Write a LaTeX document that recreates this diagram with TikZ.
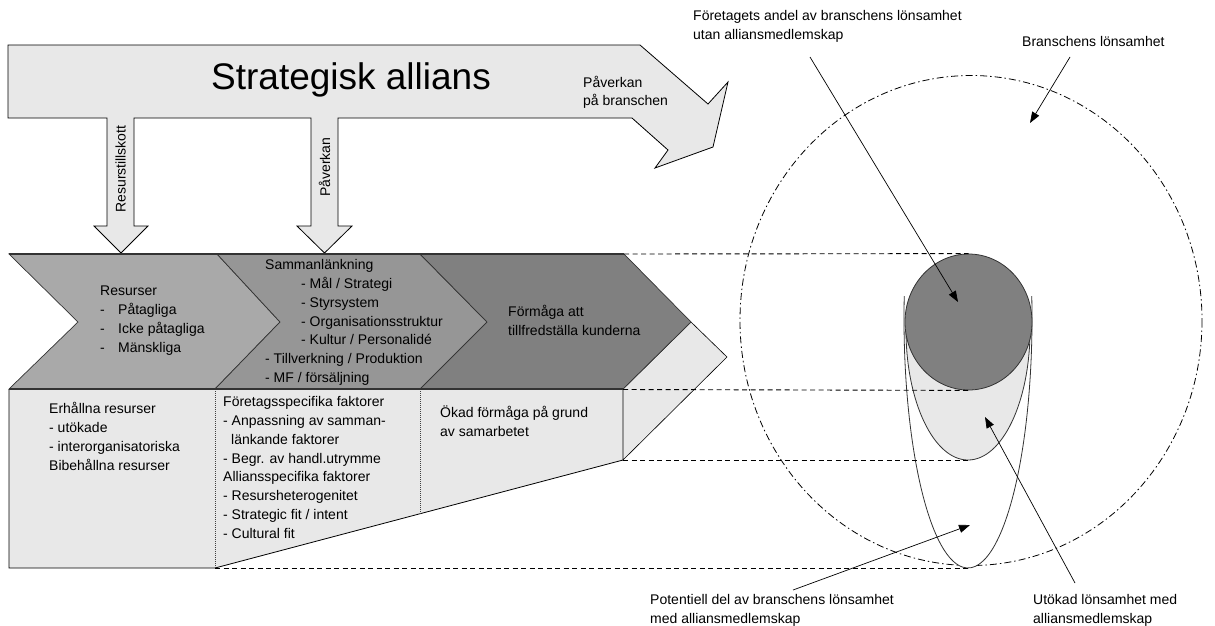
\documentclass[tikz,border=0pt]{standalone}
\usepackage{fontspec}
\setmainfont{Liberation Sans}
\usetikzlibrary{arrows.meta,shapes.geometric}
\definecolor{lightfill}{HTML}{E8E8E8}
\definecolor{chevA}{HTML}{A9A9A9}
\definecolor{chevB}{HTML}{969696}
\definecolor{chevC}{HTML}{808080}
\definecolor{edge}{HTML}{333333}
\begin{document}
\begin{tikzpicture}[x=1pt,y=-1pt,
  outline/.style={draw=black, line width=0.8pt, line join=miter},
  chev/.style={draw=edge, line width=0.7pt, line join=miter},
  rim/.style={draw=edge, line width=1.6pt},
  guide/.style={draw=black, line width=0.9pt, dash pattern=on 5pt off 3.5pt},
  dashdot/.style={draw=black, line width=0.8pt, dash pattern=on 7pt off 3pt on 1.5pt off 3pt},
  divider/.style={draw=black!75, line width=0.6pt, dash pattern=on 0.8pt off 1.2pt},
  pointer/.style={draw=black, line width=0.7pt, -{Triangle[length=11pt,width=8pt]}},
  txt/.style={inner sep=0pt, anchor=north west, align=left, font=\fontsize{14}{18.8}\selectfont},
  vtxt/.style={inner sep=0pt, rotate=90, font=\fontsize{14}{16}\selectfont},
]
\useasboundingbox (0,0) rectangle (1215,625);

% ---------- big alliance arrow with its two downward stems ----------
\draw[outline, fill=lightfill]
  (8,45) -- (640,45) -- (708,104) -- (728,82) -- (713,147) -- (655,168)
  -- (668,150) -- (632,118)
  -- (338,118) -- (338,226) -- (352,226) -- (324.5,253) -- (297,226) -- (311,226) -- (311,118)
  -- (134,118) -- (134,226) -- (148,226) -- (121,253) -- (94,226) -- (107,226) -- (107,118)
  -- (8,118) -- cycle;
\node[inner sep=0pt, font=\fontsize{37}{40}\selectfont] (title) at (351,80) {Strategisk allians};
\node[txt, font=\fontsize{14}{18}\selectfont] (impact) at (583,74.3) {\strut Påverkan\\på branschen};
\node[vtxt] (inflow) at (120.5,169) {Resurstillskott};
\node[vtxt] (influence) at (324.5,167) {Påverkan};

% ---------- lower boxes (light) ----------
\fill[lightfill] (9,389) -- (623,389) -- (623,460) -- (215,568) -- (9,568) -- cycle;
\draw[outline] (9,389) -- (9,568) -- (215,568) -- (623,460);
\draw[divider] (215,389) -- (215,568);
\draw[divider] (420,389) -- (420,513.7);
\draw[divider] (623,389) -- (623,460);
% side face of the last chevron
\draw[outline, line width=0.6pt, fill=lightfill] (691,322) -- (727,357) -- (623,460) -- (623,389) -- cycle;

% ---------- value chain chevrons ----------
\draw[chev, fill=chevA] (9,254) -- (217,254) -- (280,322) -- (215,389) -- (9,389) -- (78,322) -- cycle;
\draw[chev, fill=chevB] (217,254) -- (420,254) -- (487,322) -- (420,389) -- (215,389) -- (280,322) -- cycle;
\draw[chev, fill=chevC] (420,254) -- (624,254) -- (691,322) -- (623,389) -- (420,389) -- (487,322) -- cycle;
\draw[rim] (9,254) -- (624,254);
\draw[rim] (9,389) -- (623,389);

% ---------- chevron texts ----------
\node[txt] (res) at (100,282.3) {\strut Resurser\\
  \makebox[18pt][l]{-}Påtagliga\\
  \makebox[18pt][l]{-}Icke påtagliga\\
  \makebox[18pt][l]{-}Mänskliga};
\node[txt] (link) at (265,256.3) {\strut Sammanlänkning\\
  \hspace*{36pt}- Mål / Strategi\\
  \hspace*{36pt}- Styrsystem\\
  \hspace*{36pt}- Organisationsstruktur\\
  \hspace*{36pt}- Kultur / Personalidé\\
  - Tillverkning / Produktion\\
  - MF / försäljning};
\node[txt] (able) at (508,303.3) {\strut Förmåga att\\tillfredställa kunderna};

% ---------- box texts ----------
\node[txt] (kept) at (49,400.3) {\strut Erhållna resurser\\- utökade\\- interorganisatoriska\\Bibehållna resurser};
\node[txt] (factors) at (223,393.3) {\strut Företagsspecifika faktorer\\
  - Anpassning av samman-\\
  \hspace*{8pt}länkande faktorer\\
  - Begr. av handl.utrymme\\
  Alliansspecifika faktorer\\
  - Resursheterogenitet\\
  - Strategic fit / intent\\
  - Cultural fit};
\node[txt] (gain) at (440,404.3) {\strut Ökad förmåga på grund\\av samarbetet};

% ---------- profitability shapes ----------
\draw[dashdot] (971,320.5) ellipse [x radius=231, y radius=245];
\path[fill=white, draw=edge, line width=0.8pt] (968,318) ++(185:64 and 250) arc (185:-5:64 and 250);
\path[fill=lightfill, draw=edge, line width=0.8pt] (906,330) arc (180:0:62 and 130);
\node[ellipse, draw=edge, fill=chevC, line width=0.8pt, minimum width=127pt, minimum height=136pt, inner sep=0pt] (share) at (968.5,322) {};
\coordinate (gainlow) at (968,460);
\coordinate (potlow) at (968,568);

% ---------- guide lines ----------
\draw[guide] (624,254) -- (share.north);
\draw[guide] (623,389.5) -- (share.south);
\draw[guide] (623,460) -- (gainlow);
\draw[guide] (215,568) -- (potlow);

% ---------- labels and pointers ----------
\node[txt, font=\fontsize{14}{19.5}\selectfont] (lshare) at (693,6.3) {\strut Företagets andel av branschens lönsamhet\\utan alliansmedlemskap};
\node[txt] (lindustry) at (1022,33.3) {\strut Branschens lönsamhet};
\node[txt] (lpot) at (650,591.3) {\strut Potentiell del av branschens lönsamhet\\med alliansmedlemskap};
\node[txt] (lgain) at (1033,591.3) {\strut Utökad lönsamhet med\\alliansmedlemskap};

\coordinate (pshare) at (810,57);
\coordinate (tshare) at (958,302);
\coordinate (pind) at (1070,57);
\coordinate (tind) at (1030,123);
\coordinate (ppot) at (793,590);
\coordinate (tpot) at (970,525);
\coordinate (pgain) at (1075,583);
\coordinate (tgain) at (985,417);
\draw[pointer] (pshare) -- (tshare);
\draw[pointer] (pind) -- (tind);
\draw[pointer] (ppot) -- (tpot);
\draw[pointer] (pgain) -- (tgain);
\end{tikzpicture}
\end{document}
